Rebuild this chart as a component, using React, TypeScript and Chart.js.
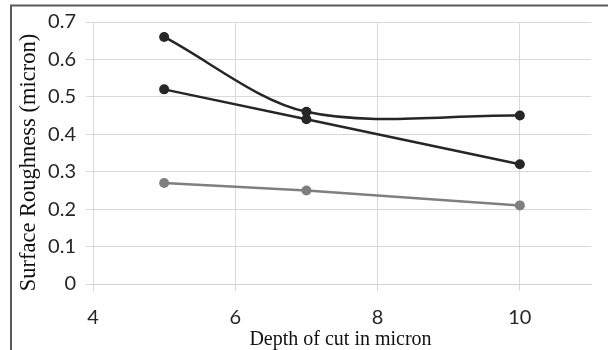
import { useEffect, useRef } from 'react';
import { Chart, registerables } from 'chart.js';

Chart.register(...registerables);

const depth = [5, 7, 10];
const seriesA = [0.66, 0.46, 0.45];
const seriesB = [0.52, 0.44, 0.32];
const seriesC = [0.27, 0.25, 0.21];
const xTicks = [4, 6, 8, 10];
const yTicks = [0, 0.1, 0.2, 0.3, 0.4, 0.5, 0.6, 0.7];
const xTitle = 'Depth of cut in micron';
const yTitle = 'Surface Roughness (micron)';

const W = 608;
const H = 350;

const framePlugin = {
  id: 'frameAndTitles',
  afterDraw(chart: any) {
    const ctx = chart.ctx as CanvasRenderingContext2D;
    ctx.save();
    ctx.strokeStyle = '#5a5a5a';
    ctx.lineWidth = 2;
    ctx.beginPath();
    ctx.moveTo(11, 350);
    ctx.lineTo(11, 5.5);
    ctx.lineTo(608, 5.5);
    ctx.stroke();

    ctx.fillStyle = '#111111';
    ctx.textAlign = 'center';
    ctx.textBaseline = 'alphabetic';
    ctx.font = '20px "Liberation Serif"';
    ctx.fillText(xTitle, 340.5, 345);

    ctx.translate(35, 162.5);
    ctx.rotate(-Math.PI / 2);
    ctx.font = '22.5px "Liberation Serif"';
    ctx.fillText(yTitle, 0, 0);
    ctx.restore();
  },
};

export default function App() {
  const ref = useRef<HTMLCanvasElement>(null);

  useEffect(() => {
    if (!ref.current) return;
    const mk = (ys: number[]) => depth.map((x, i) => ({ x, y: ys[i] }));
    const dark = '#262626';
    const grey = '#7f7f7f';
    const tickFont = { family: 'Lato', size: 20 };
    const chart = new Chart(ref.current, {
      type: 'scatter',
      data: {
        datasets: [
          {
            data: mk(seriesA),
            showLine: true,
            tension: 0.32,
            borderColor: dark,
            backgroundColor: dark,
            borderWidth: 2.5,
            pointRadius: 5,
            pointBorderWidth: 0,
          },
          {
            data: mk(seriesB),
            showLine: true,
            tension: 0,
            borderColor: dark,
            backgroundColor: dark,
            borderWidth: 2.5,
            pointRadius: 5,
            pointBorderWidth: 0,
          },
          {
            data: mk(seriesC),
            showLine: true,
            tension: 0,
            borderColor: grey,
            backgroundColor: grey,
            borderWidth: 2.5,
            pointRadius: 5,
            pointBorderWidth: 0,
          },
        ],
      },
      options: {
        responsive: false,
        animation: false,
        layout: { padding: { left: 0, top: 22, right: 17, bottom: 0 } },
        plugins: {
          legend: { display: false },
          tooltip: { enabled: false },
          title: { display: false },
        },
        scales: {
          x: {
            type: 'linear',
            min: 4,
            max: 11,
            afterBuildTicks: (s: any) => {
              s.ticks = xTicks.map((v) => ({ value: v }));
            },
            afterFit: (s: any) => {
              s.height = 66;
            },
            grid: { color: '#d9d9d9', lineWidth: 1, tickLength: 7, drawTicks: true },
            border: { display: true, color: '#d0d0d0' },
            ticks: {
              font: tickFont,
              color: '#262626',
              padding: 15,
              maxRotation: 0,
              callback: (v: any) => String(v),
            },
            title: { display: false },
          },
          y: {
            type: 'linear',
            min: 0,
            max: 0.7,
            afterBuildTicks: (s: any) => {
              s.ticks = yTicks.map((v) => ({ value: v }));
            },
            afterFit: (s: any) => {
              s.width = 93;
            },
            grid: { color: '#d9d9d9', lineWidth: 1, tickLength: 7, drawTicks: true },
            border: { display: false },
            ticks: {
              font: tickFont,
              color: '#262626',
              padding: 10,
              callback: (v: any) => (Number(v) === 0 ? '0' : Number(v).toFixed(1)),
            },
            title: { display: false },
          },
        },
      },
      plugins: [framePlugin],
    } as any);
    return () => chart.destroy();
  }, []);

  return (
    <div style={{ position: 'fixed', left: 0, top: 0, width: W, height: H, background: '#fff' }}>
      <canvas ref={ref} width={W} height={H} style={{ display: 'block' }} />
    </div>
  );
}
